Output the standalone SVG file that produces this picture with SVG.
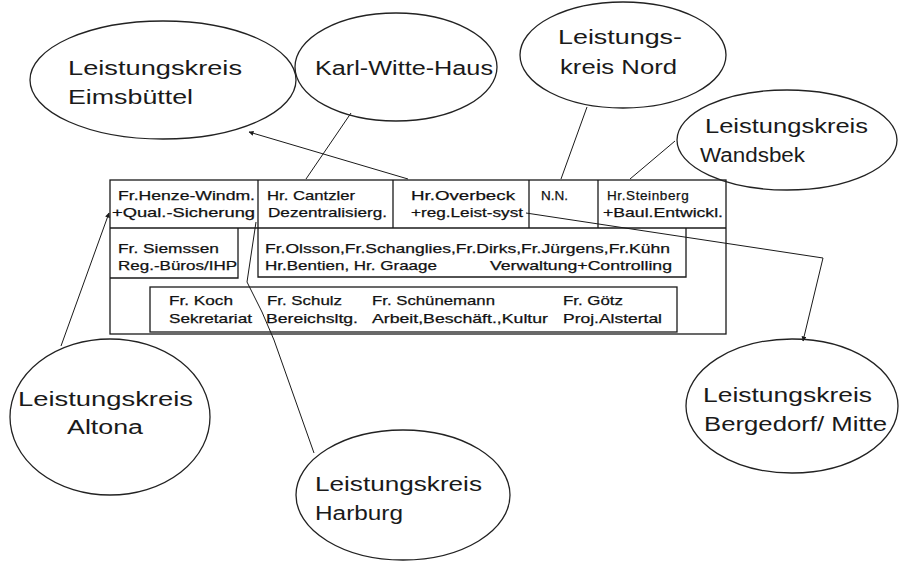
<svg xmlns="http://www.w3.org/2000/svg" width="900" height="564" viewBox="0 0 900 564">
<defs>
<style>
.bg{fill:#fff}
.ell{fill:none;stroke:#222;stroke-width:1.3}
.box{fill:none;stroke:#1a1a1a;stroke-width:1.3}
.con{fill:none;stroke:#1a1a1a;stroke-width:1}
.lt{font-family:"Liberation Sans",Arial,sans-serif;font-size:19.5px;fill:#1a1a1a}
.bt{font-family:"Liberation Sans",Arial,sans-serif;font-size:13.5px;fill:#111;stroke:#111;stroke-width:0.25}
</style>
<marker id="ah" viewBox="0 0 10 10" refX="9" refY="5" markerWidth="5" markerHeight="5" orient="auto-start-reverse" markerUnits="userSpaceOnUse">
<path d="M0,0 L10,5 L0,10 z" fill="#1a1a1a"/>
</marker>
</defs>
<rect class="bg" x="0" y="0" width="900" height="564"/>

<g id="connectors">
<line class="con" x1="408" y1="179" x2="249" y2="132" marker-end="url(#ah)"/>
<line class="con" x1="306" y1="179" x2="351" y2="113"/>
<line class="con" x1="561" y1="179" x2="587" y2="107"/>
<line class="con" x1="630" y1="179" x2="675" y2="141"/>
<line class="con" x1="61" y1="346" x2="109" y2="213" marker-end="url(#ah)"/>
<polyline class="con" points="256,222 247,282 262,312 274,340 314,453"/>
<polyline class="con" points="526,213 823,258 803,341" marker-end="url(#ah)"/>
</g>

<g id="main-box">
<rect class="box" x="110" y="180" width="616" height="154"/>
<line class="box" x1="110" y1="228" x2="726" y2="228"/>
<line class="box" x1="258" y1="180" x2="258" y2="228"/>
<line class="box" x1="393" y1="180" x2="393" y2="228"/>
<line class="box" x1="529" y1="180" x2="529" y2="228"/>
<line class="box" x1="598" y1="180" x2="598" y2="228"/>
<polyline class="box" points="110,278 238,278 238,228"/>
<polyline class="box" points="258,228 258,277 686,277 686,228"/>
<rect class="box" x="150" y="287" width="527" height="45"/>
<text class="bt" x="118" y="200" textLength="137" lengthAdjust="spacingAndGlyphs">Fr.Henze-Windm.</text>
<text class="bt" x="112" y="217" textLength="143" lengthAdjust="spacingAndGlyphs">+Qual.-Sicherung</text>
<text class="bt" x="267" y="200" textLength="88" lengthAdjust="spacingAndGlyphs">Hr. Cantzler</text>
<text class="bt" x="268" y="217" textLength="119" lengthAdjust="spacingAndGlyphs">Dezentralisierg.</text>
<text class="bt" x="411" y="200" textLength="104" lengthAdjust="spacingAndGlyphs">Hr.Overbeck</text>
<text class="bt" x="411" y="217" textLength="112" lengthAdjust="spacingAndGlyphs">+reg.Leist-syst</text>
<text class="bt" x="541" y="200">N.N.</text>
<text class="bt" x="607" y="200" letter-spacing="0.6">Hr.Steinberg</text>
<text class="bt" x="603" y="217" textLength="120" lengthAdjust="spacingAndGlyphs">+Baul.Entwickl.</text>
<text class="bt" x="118" y="253" textLength="101" lengthAdjust="spacingAndGlyphs">Fr. Siemssen</text>
<text class="bt" x="118" y="270" textLength="119" lengthAdjust="spacingAndGlyphs">Reg.-Büros/IHP</text>
<text class="bt" x="265" y="253" textLength="405" lengthAdjust="spacingAndGlyphs">Fr.Olsson,Fr.Schanglies,Fr.Dirks,Fr.Jürgens,Fr.Kühn</text>
<text class="bt" x="265" y="270" textLength="172" lengthAdjust="spacingAndGlyphs">Hr.Bentien, Hr. Graage</text>
<text class="bt" x="490" y="270" textLength="182" lengthAdjust="spacingAndGlyphs">Verwaltung+Controlling</text>
<text class="bt" x="169" y="305" textLength="64" lengthAdjust="spacingAndGlyphs">Fr. Koch</text>
<text class="bt" x="169" y="323" textLength="83" lengthAdjust="spacingAndGlyphs">Sekretariat</text>
<text class="bt" x="267" y="305" textLength="75" lengthAdjust="spacingAndGlyphs">Fr. Schulz</text>
<text class="bt" x="266" y="323" textLength="92" lengthAdjust="spacingAndGlyphs">Bereichsltg.</text>
<text class="bt" x="372" y="305" textLength="123" lengthAdjust="spacingAndGlyphs">Fr. Schünemann</text>
<text class="bt" x="372" y="323" textLength="176" lengthAdjust="spacingAndGlyphs">Arbeit,Beschäft.,Kultur</text>
<text class="bt" x="563" y="305" textLength="60" lengthAdjust="spacingAndGlyphs">Fr. Götz</text>
<text class="bt" x="563" y="323" textLength="99" lengthAdjust="spacingAndGlyphs">Proj.Alstertal</text>
</g>

<g id="lk-eimsbuettel">
<ellipse class="ell" cx="163" cy="80" rx="133" ry="59"/>
<text class="lt" x="68" y="75" textLength="174" lengthAdjust="spacingAndGlyphs">Leistungskreis</text>
<text class="lt" x="68" y="104" textLength="125" lengthAdjust="spacingAndGlyphs">Eimsbüttel</text>
</g>
<g id="karl-witte-haus">
<ellipse class="ell" cx="396" cy="67" rx="101" ry="54"/>
<text class="lt" x="315" y="75" textLength="178" lengthAdjust="spacingAndGlyphs">Karl-Witte-Haus</text>
</g>
<g id="lk-nord">
<ellipse class="ell" cx="623" cy="55" rx="103" ry="53"/>
<text class="lt" x="558" y="44" textLength="124" lengthAdjust="spacingAndGlyphs">Leistungs-</text>
<text class="lt" x="560" y="74" textLength="117" lengthAdjust="spacingAndGlyphs">kreis Nord</text>
</g>
<g id="lk-wandsbek">
<ellipse class="ell" cx="787" cy="140" rx="110" ry="50"/>
<text class="lt" x="705" y="133" textLength="163" lengthAdjust="spacingAndGlyphs">Leistungskreis</text>
<text class="lt" x="700" y="162" textLength="105" lengthAdjust="spacingAndGlyphs">Wandsbek</text>
</g>
<g id="lk-altona">
<ellipse class="ell" cx="110" cy="417" rx="100" ry="78"/>
<text class="lt" x="18" y="406" textLength="175" lengthAdjust="spacingAndGlyphs">Leistungskreis</text>
<text class="lt" x="67" y="434" textLength="76" lengthAdjust="spacingAndGlyphs">Altona</text>
</g>
<g id="lk-harburg">
<ellipse class="ell" cx="403" cy="495" rx="107" ry="65"/>
<text class="lt" x="315" y="491" textLength="167" lengthAdjust="spacingAndGlyphs">Leistungskreis</text>
<text class="lt" x="315" y="520" textLength="88" lengthAdjust="spacingAndGlyphs">Harburg</text>
</g>
<g id="lk-bergedorf">
<ellipse class="ell" cx="792" cy="406" rx="106" ry="67"/>
<text class="lt" x="703" y="402" textLength="169" lengthAdjust="spacingAndGlyphs">Leistungskreis</text>
<text class="lt" x="704" y="431" textLength="183" lengthAdjust="spacingAndGlyphs">Bergedorf/ Mitte</text>
</g>
</svg>
